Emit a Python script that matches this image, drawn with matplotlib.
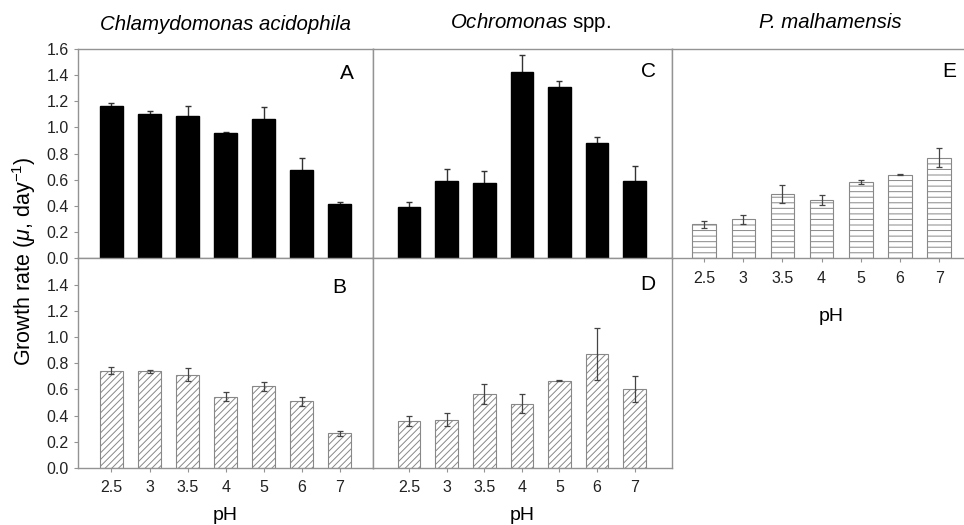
import matplotlib
matplotlib.use("Agg")
import matplotlib.pyplot as plt
import numpy as np

plt.rcParams['font.family'] = ['Liberation Sans', 'DejaVu Sans']
plt.rcParams['mathtext.fontset'] = 'custom'
plt.rcParams['mathtext.rm'] = 'Liberation Sans'
plt.rcParams['mathtext.it'] = 'Liberation Sans:italic'
plt.rcParams['hatch.linewidth'] = 0.7

ph = ["2.5", "3", "3.5", "4", "5", "6", "7"]

# growth rates and error (upper bar length)
chlamy_a = [1.165, 1.10, 1.088, 0.955, 1.062, 0.678, 0.417]
chlamy_a_err = [0.02, 0.027, 0.077, 0.01, 0.095, 0.085, 0.016]
chlamy_b = [0.743, 0.738, 0.713, 0.545, 0.624, 0.509, 0.265]
chlamy_b_err = [0.028, 0.01, 0.051, 0.033, 0.033, 0.033, 0.02]
ochro_c = [0.392, 0.594, 0.579, 1.421, 1.313, 0.883, 0.589]
ochro_c_err = [0.041, 0.092, 0.087, 0.136, 0.039, 0.046, 0.115]
ochro_d = [0.356, 0.369, 0.568, 0.489, 0.667, 0.870, 0.603]
ochro_d_err = [0.039, 0.051, 0.076, 0.073, 0.005, 0.196, 0.102]
pmal_e = [0.26, 0.298, 0.49, 0.446, 0.584, 0.64, 0.77]
pmal_e_err = [0.026, 0.034, 0.069, 0.036, 0.018, 0.005, 0.072]

W, H = 964, 525
fig = plt.figure(figsize=(W / 100, H / 100), dpi=100)

def box(x0, x1, y0, y1):
    return [x0 / W, 1 - y1 / H, (x1 - x0) / W, (y1 - y0) / H]

top, mid, bot = 49, 258.3, 468
axA = fig.add_axes(box(78, 372.5, top, mid))
axB = fig.add_axes(box(78, 372.5, mid, bot))
axC = fig.add_axes(box(372.5, 672, top, mid))
axD = fig.add_axes(box(372.5, 672, mid, bot))
axE = fig.add_axes(box(672, 990, top, mid))

gray = '#939393'
x = np.arange(len(ph))

def panel(ax, vals, err, style, letter, lx, ly, xlim):
    if style == 'solid':
        ax.bar(x, vals, width=0.6, color='black', edgecolor='black', zorder=3)
        ax.errorbar(x, vals, yerr=err, fmt='none', ecolor='#333333',
                    elinewidth=1, capsize=2.5, capthick=1, zorder=2)
    else:
        hatch = '/////' if style == 'diag' else '---'
        ax.bar(x, vals, width=0.6, color='white', edgecolor='#888888',
               hatch=hatch, linewidth=0.8, zorder=2)
        ax.errorbar(x, vals, yerr=err, fmt='none', ecolor='#444444',
                    elinewidth=0.9, capsize=2.5, capthick=0.9, zorder=3)
    ax.set_xlim(*xlim)
    ax.set_ylim(0, 1.6)
    for s in ax.spines.values():
        s.set_color(gray)
        s.set_linewidth(1.0)
    ax.text(lx, ly, letter, transform=ax.transAxes, ha='right', va='top',
            fontsize=15, color='black')
    ax.tick_params(colors=gray, labelcolor='#222222', labelsize=11.5,
                   length=3, width=0.8, direction='out')

panel(axA, chlamy_a, chlamy_a_err, 'solid', 'A', 0.935, 0.93, (-0.88, 6.86))
panel(axB, chlamy_b, chlamy_b_err, 'diag', 'B', 0.91, 0.905, (-0.88, 6.86))
panel(axC, ochro_c, ochro_c_err, 'solid', 'C', 0.945, 0.94, (-0.97, 6.99))
panel(axD, ochro_d, ochro_d_err, 'diag', 'D', 0.945, 0.92, (-0.97, 6.99))
panel(axE, pmal_e, pmal_e_err, 'horiz', 'E', 0.895, 0.94, (-0.82, 7.3))

ticks = [0.0, 0.2, 0.4, 0.6, 0.8, 1.0, 1.2, 1.4, 1.6]
axA.set_yticks(ticks)
axA.set_yticklabels([f"{t:.1f}" for t in ticks])
axB.set_yticks(ticks[:-1])
axB.set_yticklabels([f"{t:.1f}" for t in ticks[:-1]])
for ax in (axC, axD, axE):
    ax.set_yticks([])
for ax in (axA, axC):
    ax.set_xticks([])
for ax in (axB, axD, axE):
    ax.set_xticks(x)
    ax.set_xticklabels(ph)
    ax.tick_params(axis='x', pad=6)
    ax.set_xlabel("pH", fontsize=14, labelpad=8)
axE.xaxis.labelpad = 16
axE.spines['right'].set_visible(False)

fig.text(225 / W, 1 - 24 / H, "Chlamydomonas acidophila", style='italic',
         fontsize=14.7, ha='center', va='center')
fig.text(530 / W, 1 - 22 / H, r"$\mathit{Ochromonas}$ spp.",
         fontsize=14.7, ha='center', va='center')
fig.text(830 / W, 1 - 22 / H, "P. malhamensis", style='italic',
         fontsize=14.7, ha='center', va='center')
fig.text(24 / W, 1 - 261 / H, r"Growth rate ($\mu$, day$^{-1}$)",
         rotation=90, fontsize=15.5, ha='center', va='center')

fig.savefig("out.png", dpi=100)
